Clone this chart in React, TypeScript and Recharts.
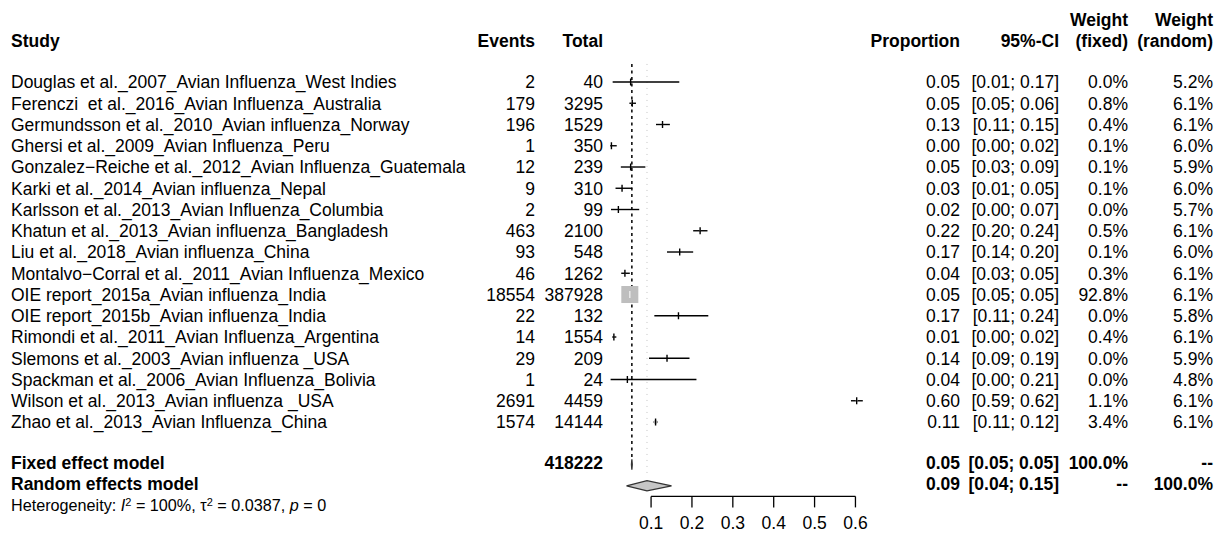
import React from 'react';
import { ComposedChart, Scatter, XAxis, YAxis, ReferenceLine, ReferenceArea } from 'recharts';

const studies = [
  'Douglas et al._2007_Avian Influenza_West Indies',
  'Ferenczi  et al._2016_Avian Influenza_Australia',
  'Germundsson et al._2010_Avian influenza_Norway',
  'Ghersi et al._2009_Avian Influenza_Peru',
  'Gonzalez\u2212Reiche et al._2012_Avian Influenza_Guatemala',
  'Karki et al._2014_Avian influenza_Nepal',
  'Karlsson et al._2013_Avian Influenza_Columbia',
  'Khatun et al._2013_Avian influenza_Bangladesh',
  'Liu et al._2018_Avian influenza_China',
  'Montalvo\u2212Corral et al._2011_Avian Influenza_Mexico',
  'OIE report_2015a_Avian influenza_India',
  'OIE report_2015b_Avian influenza_India',
  'Rimondi et al._2011_Avian Influenza_Argentina',
  'Slemons et al._2003_Avian influenza _USA',
  'Spackman et al._2006_Avian Influenza_Bolivia',
  'Wilson et al._2013_Avian influenza _USA',
  'Zhao et al._2013_Avian Influenza_China',
];
const events = ['2', '179', '196', '1', '12', '9', '2', '463', '93', '46', '18554', '22', '14', '29', '1', '2691', '1574'];
const totals = ['40', '3295', '1529', '350', '239', '310', '99', '2100', '548', '1262', '387928', '132', '1554', '209', '24', '4459', '14144'];
const proportions = [0.05, 0.054, 0.128, 0.003, 0.05, 0.029, 0.02, 0.22, 0.17, 0.036, 0.048, 0.167, 0.009, 0.139, 0.042, 0.603, 0.111];
const ciLow = [0.006, 0.047, 0.112, 0.0, 0.026, 0.013, 0.002, 0.203, 0.139, 0.027, 0.047, 0.108, 0.005, 0.095, 0.001, 0.589, 0.106];
const ciHigh = [0.169, 0.063, 0.146, 0.016, 0.086, 0.054, 0.071, 0.238, 0.203, 0.048, 0.049, 0.240, 0.015, 0.194, 0.211, 0.618, 0.116];
const propLabels = ['0.05', '0.05', '0.13', '0.00', '0.05', '0.03', '0.02', '0.22', '0.17', '0.04', '0.05', '0.17', '0.01', '0.14', '0.04', '0.60', '0.11'];
const ciLabels = ['[0.01; 0.17]', '[0.05; 0.06]', '[0.11; 0.15]', '[0.00; 0.02]', '[0.03; 0.09]', '[0.01; 0.05]', '[0.00; 0.07]', '[0.20; 0.24]', '[0.14; 0.20]', '[0.03; 0.05]', '[0.05; 0.05]', '[0.11; 0.24]', '[0.00; 0.02]', '[0.09; 0.19]', '[0.00; 0.21]', '[0.59; 0.62]', '[0.11; 0.12]'];
const weightFixed = [0.0, 0.8, 0.4, 0.1, 0.1, 0.1, 0.0, 0.5, 0.1, 0.3, 92.8, 0.0, 0.4, 0.0, 0.0, 1.1, 3.4];
const weightRandom = [5.2, 6.1, 6.1, 6.0, 5.9, 6.0, 5.7, 6.1, 6.0, 6.1, 6.1, 5.8, 6.1, 5.9, 4.8, 6.1, 6.1];

const summaryLabels = ['Fixed effect model', 'Random effects model'];
const summaryTotals = ['418222', ''];
const summaryEst = [0.053, 0.09];
const summaryLow = [0.052, 0.04];
const summaryHigh = [0.054, 0.15];
const summaryPropLabels = ['0.05', '0.09'];
const summaryCiLabels = ['[0.05; 0.05]', '[0.04; 0.15]'];
const summaryWeightFixed = ['100.0%', '--'];
const summaryWeightRandom = ['--', '100.0%'];

const xTicks = [0.1, 0.2, 0.3, 0.4, 0.5, 0.6];

const FONT = '"Liberation Sans", Arial, Helvetica, sans-serif';
const FS = 17.5;
const COL = { study: 11, events: 535, total: 603, prop: 960, ci: 1059, wf: 1128, wr: 1213 };
const SQUARE_MAX = 17;
const maxWF = Math.max(...weightFixed);

const studyData = studies.map((s, i) => ({
  x: proportions[i],
  row: i,
  name: s,
  events: events[i],
  total: totals[i],
  prop: propLabels[i],
  ci: ciLabels[i],
  wf: weightFixed[i],
  wr: weightRandom[i],
}));

const summaryData = summaryLabels.map((s, j) => ({
  x: summaryEst[j],
  row: 18 + j,
  name: s,
  total: summaryTotals[j],
  prop: summaryPropLabels[j],
  ci: summaryCiLabels[j],
  wf: summaryWeightFixed[j],
  wr: summaryWeightRandom[j],
}));

const T = (props: any) => (
  <text fontFamily={FONT} fontSize={FS} fill="#000" dy="0.36em" style={{ whiteSpace: 'pre' }} {...props} />
);

const StudyShape = (props: any) => {
  const { cx, cy, payload } = props;
  const side = SQUARE_MAX * Math.sqrt(payload.wf / maxWF);
  const big = side > 8;
  return (
    <g>
      {side > 0.6 && (
        <rect x={cx - side / 2} y={cy - side / 2} width={side} height={side} fill="#bebebe" />
      )}
      <line x1={cx} x2={cx} y1={cy - 3.5} y2={cy + 3.5} stroke={big ? '#ececec' : '#000'} strokeWidth={1.4} />
      <T x={COL.study} y={cy}>{payload.name}</T>
      <T x={COL.events} y={cy} textAnchor="end">{payload.events}</T>
      <T x={COL.total} y={cy} textAnchor="end">{payload.total}</T>
      <T x={COL.prop} y={cy} textAnchor="end">{payload.prop}</T>
      <T x={COL.ci} y={cy} textAnchor="end">{payload.ci}</T>
      <T x={COL.wf} y={cy} textAnchor="end">{payload.wf.toFixed(1) + '%'}</T>
      <T x={COL.wr} y={cy} textAnchor="end">{payload.wr.toFixed(1) + '%'}</T>
    </g>
  );
};

const SummaryShape = (props: any) => {
  const { cy, payload } = props;
  return (
    <g>
      <T x={COL.study} y={cy} dy="0.26em" fontWeight="bold">{payload.name}</T>
      <T x={COL.total} y={cy} dy="0.26em" textAnchor="end" fontWeight="bold">{payload.total}</T>
      <T x={COL.prop} y={cy} dy="0.26em" textAnchor="end" fontWeight="bold">{payload.prop}</T>
      <T x={COL.ci} y={cy} dy="0.26em" textAnchor="end" fontWeight="bold">{payload.ci}</T>
      <T x={COL.wf} y={cy} dy="0.26em" textAnchor="end" fontWeight="bold">{payload.wf}</T>
      <T x={COL.wr} y={cy} dy="0.26em" textAnchor="end" fontWeight="bold">{payload.wr}</T>
    </g>
  );
};

const makeDiamond = (lo: number, est: number, hi: number, fill: string) => (p: any) => {
  const { x, y, width, height } = p;
  const ex = x + (width * (est - lo)) / (hi - lo);
  const my = y + height / 2;
  const pts = `${x},${my} ${ex},${y} ${x + width},${my} ${ex},${y + height}`;
  return <polygon points={pts} fill={fill} stroke="#333" strokeWidth={1.3} />;
};

export default function App() {
  return (
    <div style={{ position: 'absolute', left: 0, top: 0, width: 1222, height: 537, background: '#fff' }}>
      <ComposedChart
        width={1222}
        height={537}
        margin={{ top: 60.75, right: 350.2, bottom: 0, left: 610.2 }}
      >
        <XAxis
          dataKey="x"
          type="number"
          domain={[0, 0.64]}
          ticks={xTicks}
          interval={0}
          axisLine={false}
          tickLine={{ stroke: '#000', strokeWidth: 1.3 }}
          tickSize={11}
          tickMargin={9}
          height={40.6}
          tick={{ fill: '#000', fontSize: FS, fontFamily: FONT }}
          tickFormatter={(v: number) => String(v)}
        />
        <YAxis dataKey="row" type="number" domain={[-1, 19.5]} reversed hide width={0} />
        <ReferenceLine
          segment={[{ x: 0.09, y: -0.85 }, { x: 0.09, y: 18.45 }]}
          stroke="#c4c4c4"
          strokeWidth={1}
          strokeDasharray="1 5"
          ifOverflow="visible"
        />
        <ReferenceLine
          segment={[{ x: summaryEst[0], y: -0.85 }, { x: summaryEst[0], y: 17.7 }]}
          stroke="#000"
          strokeWidth={1.5}
          strokeDasharray="3 3.5"
          ifOverflow="visible"
        />
        {studies.map((s, i) => (
          <ReferenceLine
            key={s}
            segment={[{ x: ciLow[i], y: i }, { x: ciHigh[i], y: i }]}
            stroke="#000"
            strokeWidth={1.4}
            ifOverflow="visible"
          />
        ))}
        <ReferenceLine
          segment={[{ x: xTicks[0], y: 19.5 }, { x: xTicks[xTicks.length - 1], y: 19.5 }]}
          stroke="#000"
          strokeWidth={1.3}
          ifOverflow="visible"
        />
        <ReferenceArea
          x1={summaryLow[0]}
          x2={summaryHigh[0]}
          y1={18 - 0.24}
          y2={18 + 0.24}
          ifOverflow="visible"
          shape={makeDiamond(summaryLow[0], summaryEst[0], summaryHigh[0], '#bebebe')}
        />
        <ReferenceArea
          x1={summaryLow[1]}
          x2={summaryHigh[1]}
          y1={19 - 0.24}
          y2={19 + 0.24}
          ifOverflow="visible"
          shape={makeDiamond(summaryLow[1], summaryEst[1], summaryHigh[1], '#c6c6c6')}
        />
        <Scatter data={studyData} shape={StudyShape} isAnimationActive={false} />
        <Scatter data={summaryData} shape={SummaryShape} isAnimationActive={false} />
      </ComposedChart>
      <svg
        width={1222}
        height={537}
        style={{ position: 'absolute', left: 0, top: 0, pointerEvents: 'none' }}
      >
        <g fontFamily={FONT} fontSize={FS} fontWeight="bold" fill="#000">
          <text x={COL.study} y={47}>Study</text>
          <text x={COL.events} y={47} textAnchor="end">Events</text>
          <text x={COL.total} y={47} textAnchor="end">Total</text>
          <text x={COL.prop} y={47} textAnchor="end">Proportion</text>
          <text x={COL.ci} y={47} textAnchor="end">95%-CI</text>
          <text x={COL.wf} y={26} textAnchor="end">Weight</text>
          <text x={COL.wf} y={47} textAnchor="end">(fixed)</text>
          <text x={COL.wr} y={26} textAnchor="end">Weight</text>
          <text x={COL.wr} y={47} textAnchor="end">(random)</text>
        </g>
        <text x={COL.study} y={511} fontFamily={FONT} fontSize={16.2} fill="#000">
          {'Heterogeneity: '}
          <tspan fontStyle="italic">I</tspan>
          <tspan dy={-5} fontSize={11}>2</tspan>
          <tspan dy={5}>{' = 100%, \u03C4'}</tspan>
          <tspan dy={-5} fontSize={11}>2</tspan>
          <tspan dy={5}>{' = 0.0387, '}</tspan>
          <tspan fontStyle="italic">p</tspan>
          <tspan>{' = 0'}</tspan>
        </text>
      </svg>
    </div>
  );
}
